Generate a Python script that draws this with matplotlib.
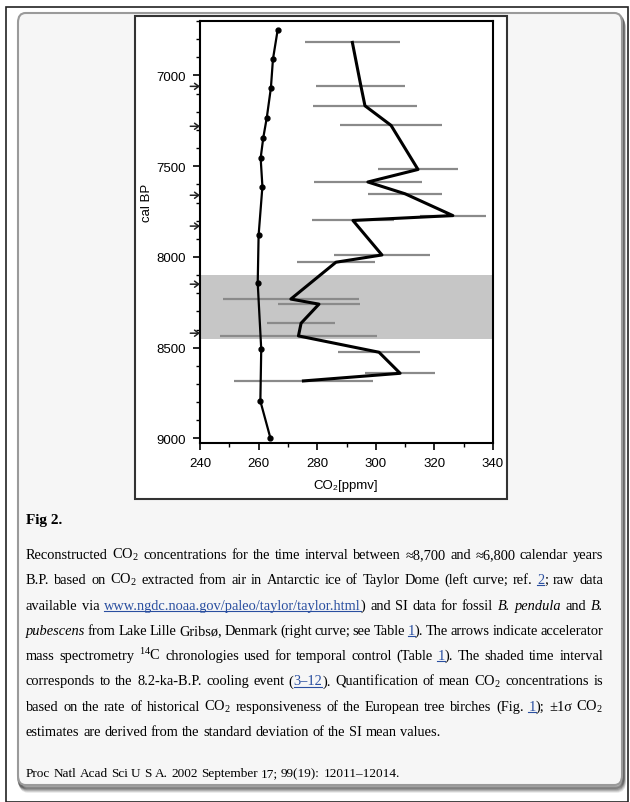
"""Fig 2 of Wagner et al. 2002 (PNAS): CO2 around the 8.2 ka event, as a screenshot."""
import matplotlib

matplotlib.use("Agg")
import matplotlib.patches as mpatches  # noqa: E402
import matplotlib.pyplot as plt  # noqa: E402
from matplotlib.lines import Line2D  # noqa: E402
from matplotlib.transforms import IdentityTransform  # noqa: E402

W, H = 630, 803

# Taylor Dome ice core CO2 (left curve)
taylor_age = [6750, 6910, 7068, 7232, 7343, 7455, 7612, 7881, 8145, 8508, 8794, 8996]
taylor_co2 = [266.5, 264.9, 264.2, 262.8, 261.6, 260.7, 261.3, 260.0, 259.7, 260.9, 260.6, 264.0]

# stomatal index CO2 (right curve), +-1 sigma
si_age = [6818, 7057, 7167, 7275, 7518, 7587, 7652, 7772, 7799, 7989, 8029,
          8232, 8260, 8365, 8435, 8525, 8641, 8683]
si_co2 = [292.0, 294.9, 296.3, 305.2, 314.4, 297.3, 310.0, 326.3, 292.2, 302.1, 286.4,
          271.0, 280.6, 274.5, 273.6, 301.1, 308.3, 275.3]
si_err = [16.2, 15.2, 17.7, 17.5, 13.8, 18.5, 12.6, 11.3, 14.0, 16.4, 13.4,
          23.1, 14.0, 11.7, 26.7, 14.0, 12.0, 23.8]

ams_dates = [7060, 7280, 7660, 7830, 8150, 8420]
cooling_event = (8100, 8450)

x_ticks = [240, 260, 280, 300, 320, 340]
y_ticks = [7000, 7500, 8000, 8500, 9000]

LINK = "#2a4fa0"

caption = [
    [("Reconstructed CO$_2$ concentrations for the time interval between \u22488,700 and \u22486,800 calendar years", "n")],
    [("B.P. based on CO$_2$ extracted from air in Antarctic ice of Taylor Dome (left curve; ref. ", "n"),
     ("2", "l"), ("; raw data", "n")],
    [("available via ", "n"), ("www.ngdc.noaa.gov/paleo/taylor/taylor.html", "l"),
     (") and SI data for fossil ", "n"), ("B. pendula", "i"), (" and ", "n"), ("B.", "i")],
    [("pubescens", "i"), (" from Lake Lille Gribs\u00f8, Denmark (right curve; see Table ", "n"),
     ("1", "l"), ("). The arrows indicate accelerator", "n")],
    [("mass spectrometry $^{14}$C chronologies used for temporal control (Table ", "n"),
     ("1", "l"), ("). The shaded time interval", "n")],
    [("corresponds to the 8.2-ka-B.P. cooling event (", "n"), ("3\u201312", "l"),
     ("). Quantification of mean CO$_2$ concentrations is", "n")],
    [("based on the rate of historical CO$_2$ responsiveness of the European tree birches (Fig. ", "n"),
     ("1", "l"), ("); \u00b11\u03c3 CO$_2$", "n")],
    [("estimates are derived from the standard deviation of the SI mean values.", "n")],
]
citation = "Proc Natl Acad Sci U S A. 2002 September 17; 99(19): 12011\u201312014."


def px(x, y):
    """image pixel (top-left origin) -> figure fraction"""
    return x / W, 1 - y / H


def text_line(fig, renderer, x0, y, runs, width=None, size=10.4):
    words = [[]]
    for text, kind in runs:
        for i, part in enumerate(text.split(" ")):
            if i > 0:
                words.append([])
            if part:
                words[-1].append((part, kind))
    words = [w for w in words if w]

    placed = []
    for w in words:
        frags = []
        for part, kind in w:
            t = fig.text(0, H - y, part, transform=IdentityTransform(), fontsize=size,
                         family="Liberation Serif", va="baseline",
                         style="italic" if kind == "i" else "normal",
                         color=LINK if kind == "l" else "black")
            frags.append((t, t.get_window_extent(renderer).width, kind))
        placed.append(frags)

    total = sum(f[1] for w in placed for f in w)
    gap = size * 100 / 72 * 0.25
    if width is not None and len(placed) > 1:
        gap = max(2.0, (width - total) / (len(placed) - 1))
    x = x0
    for w in placed:
        for t, wd, kind in w:
            t.set_position((x, H - y))
            if kind == "l":
                fig.add_artist(Line2D([x, x + wd], [H - y - 2, H - y - 2], lw=0.8,
                                      color=LINK, transform=IdentityTransform()))
            x += wd
        x += gap


def main():
    plt.rcParams["mathtext.fontset"] = "custom"
    plt.rcParams["mathtext.rm"] = "Liberation Serif"
    plt.rcParams["mathtext.it"] = "Liberation Serif:italic"

    fig = plt.figure(figsize=(W / 100, H / 100), dpi=100)
    fig.patch.set_facecolor("white")

    # outer frame and the rounded panel with its shadow
    fig.add_artist(mpatches.Rectangle(px(6, 803), 622 / W, 795 / H, fill=False,
                                      ec="#222222", lw=1.2, transform=fig.transFigure,
                                      zorder=-5))
    for k, a in enumerate([0.10, 0.12, 0.15, 0.2, 0.25]):
        off = 6 - k
        fig.add_artist(mpatches.FancyBboxPatch(
            px(18 + off * 0.4, 786 + off), 604 / W, 772 / H,
            boxstyle="round,pad=0,rounding_size=0.012", fc="none", ec="#000000",
            lw=2.5, alpha=a, transform=fig.transFigure, zorder=-5))
    fig.add_artist(mpatches.FancyBboxPatch(
        px(18, 786), 604 / W, 772 / H, boxstyle="round,pad=0,rounding_size=0.012",
        fc="#f6f6f6", ec="#9a9a9a", lw=1.5, transform=fig.transFigure, zorder=-4))
    # white figure box
    fig.add_artist(mpatches.Rectangle(px(135, 500), 372 / W, 483 / H, fc="white",
                                      ec="#333333", lw=1.5, transform=fig.transFigure,
                                      zorder=-3))

    ax = fig.add_axes([200 / W, 1 - 444 / H, 293 / W, 422 / H])
    ax.patch.set_alpha(0)
    ax.axhspan(*cooling_event, color="#c6c6c6", lw=0, zorder=0)
    ax.errorbar(si_co2, si_age, xerr=si_err, fmt="none", ecolor="#8a8a8a",
                elinewidth=1.6, capsize=0, zorder=1)
    ax.plot(si_co2, si_age, color="black", lw=2.2, zorder=3)
    ax.plot(taylor_co2, taylor_age, color="black", lw=1.6, marker="o", ms=3.5, zorder=3)

    ax.set_xlim(240, 340)
    ax.set_ylim(9025, 6700)
    ax.set_xticks(x_ticks)
    ax.set_xticks(range(250, 340, 20), minor=True)
    ax.set_yticks(y_ticks)
    ax.set_yticks(range(6700, 9025, 100), minor=True)
    for lab in ax.get_xticklabels() + ax.get_yticklabels():
        lab.set_family("Liberation Sans")
        lab.set_fontsize(9.5)
    ax.tick_params(which="major", length=5, width=1.2, pad=5)
    ax.tick_params(which="minor", length=3, width=1.0)
    for s in ax.spines.values():
        s.set_linewidth(1.5)

    for age in ams_dates:
        ax.annotate("", xy=(240, age), xytext=(-7, 0), textcoords="offset points",
                    xycoords="data", annotation_clip=False,
                    arrowprops=dict(arrowstyle="->,head_length=0.3,head_width=0.22",
                                    lw=1.1, color="#222222", shrinkA=0, shrinkB=0))

    fig.text(147 / W, 1 - 203 / H, "cal BP", rotation=90, ha="center", va="center",
             fontsize=9.5, family="Liberation Sans")
    fig.text(346 / W, 1 - 486 / H, "CO\u2082[ppmv]", ha="center", va="center",
             fontsize=9.5, family=["Liberation Sans", "DejaVu Sans"])

    renderer = fig.canvas.get_renderer()
    fig.text(26 / W, 1 - 524 / H, "Fig 2.", fontsize=11, weight="bold",
             family="Liberation Serif", va="baseline")
    for i, runs in enumerate(caption):
        width = None if i == len(caption) - 1 else 577
        text_line(fig, renderer, 26, 559 + 25.3 * i, runs, width=width)
    text_line(fig, renderer, 26, 777, [(citation, "n")], size=9.5)

    fig.savefig("out.png", dpi=100)


if __name__ == "__main__":
    main()
